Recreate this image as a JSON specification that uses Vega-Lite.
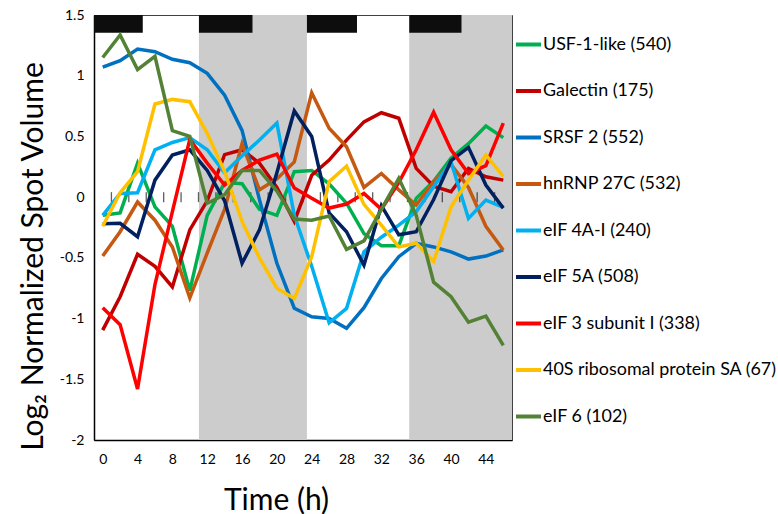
{
  "$schema": "https://vega.github.io/schema/vega-lite/v6.json",
  "width": 418,
  "height": 425,
  "autosize": "none",
  "padding": {"left": 94, "top": 15, "right": 266, "bottom": 74},
  "background": "white",
  "config": {
    "font": "Lato",
    "view": {"stroke": "#404040", "strokeWidth": 1},
    "axis": {
      "grid": false,
      "ticks": false,
      "domainColor": "#000000",
      "domainWidth": 1.5,
      "labelFontSize": 14,
      "labelColor": "#000000",
      "labelFlush": false,
      "labelOverlap": false,
      "titleFontSize": 30,
      "titleFontWeight": "normal",
      "titleColor": "#000000"
    }
  },
  "datasets": {
    "dark": [
      {"start": 11.05, "end": 23.45},
      {"start": 35.2, "end": 47}
    ],
    "bars": [
      {"start": -1, "end": 4.6},
      {"start": 11.05, "end": 17.2},
      {"start": 23.45, "end": 29.2},
      {"start": 35.2, "end": 41.2}
    ],
    "ticks": [
      {"time": 1}, {"time": 3}, {"time": 5}, {"time": 7}, {"time": 9}, {"time": 11},
      {"time": 13}, {"time": 15}, {"time": 17}, {"time": 19}, {"time": 21}, {"time": 23},
      {"time": 25}, {"time": 27}, {"time": 29}, {"time": 31}, {"time": 33}, {"time": 35},
      {"time": 37}, {"time": 39}, {"time": 41}, {"time": 43}, {"time": 45}
    ],
    "expr": [
      {"protein": "USF-1-like (540)", "time": 0, "value": -0.15},
      {"protein": "USF-1-like (540)", "time": 2, "value": -0.13},
      {"protein": "USF-1-like (540)", "time": 4, "value": 0.28},
      {"protein": "USF-1-like (540)", "time": 6, "value": -0.08},
      {"protein": "USF-1-like (540)", "time": 8, "value": -0.24},
      {"protein": "USF-1-like (540)", "time": 10, "value": -0.77},
      {"protein": "USF-1-like (540)", "time": 12, "value": -0.15},
      {"protein": "USF-1-like (540)", "time": 14, "value": 0.12},
      {"protein": "USF-1-like (540)", "time": 16, "value": 0.11},
      {"protein": "USF-1-like (540)", "time": 18, "value": -0.1},
      {"protein": "USF-1-like (540)", "time": 20, "value": -0.15},
      {"protein": "USF-1-like (540)", "time": 22, "value": 0.21},
      {"protein": "USF-1-like (540)", "time": 24, "value": 0.22},
      {"protein": "USF-1-like (540)", "time": 26, "value": 0.11},
      {"protein": "USF-1-like (540)", "time": 28, "value": -0.05},
      {"protein": "USF-1-like (540)", "time": 30, "value": -0.3},
      {"protein": "USF-1-like (540)", "time": 32, "value": -0.4},
      {"protein": "USF-1-like (540)", "time": 34, "value": -0.4},
      {"protein": "USF-1-like (540)", "time": 36, "value": -0.01},
      {"protein": "USF-1-like (540)", "time": 38, "value": 0.13},
      {"protein": "USF-1-like (540)", "time": 40, "value": 0.32},
      {"protein": "USF-1-like (540)", "time": 42, "value": 0.44},
      {"protein": "USF-1-like (540)", "time": 44, "value": 0.585},
      {"protein": "USF-1-like (540)", "time": 46, "value": 0.49},

      {"protein": "Galectin (175)", "time": 0, "value": -1.095},
      {"protein": "Galectin (175)", "time": 2, "value": -0.82},
      {"protein": "Galectin (175)", "time": 4, "value": -0.47},
      {"protein": "Galectin (175)", "time": 6, "value": -0.57},
      {"protein": "Galectin (175)", "time": 8, "value": -0.74},
      {"protein": "Galectin (175)", "time": 10, "value": -0.27},
      {"protein": "Galectin (175)", "time": 12, "value": -0.03},
      {"protein": "Galectin (175)", "time": 14, "value": 0.35},
      {"protein": "Galectin (175)", "time": 16, "value": 0.39},
      {"protein": "Galectin (175)", "time": 18, "value": 0.28},
      {"protein": "Galectin (175)", "time": 20, "value": 0.08},
      {"protein": "Galectin (175)", "time": 22, "value": -0.2},
      {"protein": "Galectin (175)", "time": 24, "value": 0.18},
      {"protein": "Galectin (175)", "time": 26, "value": 0.305},
      {"protein": "Galectin (175)", "time": 28, "value": 0.47},
      {"protein": "Galectin (175)", "time": 30, "value": 0.62},
      {"protein": "Galectin (175)", "time": 32, "value": 0.695},
      {"protein": "Galectin (175)", "time": 34, "value": 0.65},
      {"protein": "Galectin (175)", "time": 36, "value": 0.237},
      {"protein": "Galectin (175)", "time": 38, "value": 0.09},
      {"protein": "Galectin (175)", "time": 40, "value": 0.045},
      {"protein": "Galectin (175)", "time": 42, "value": 0.237},
      {"protein": "Galectin (175)", "time": 44, "value": 0.168},
      {"protein": "Galectin (175)", "time": 46, "value": 0.14},

      {"protein": "SRSF 2 (552)", "time": 0, "value": 1.07},
      {"protein": "SRSF 2 (552)", "time": 2, "value": 1.124},
      {"protein": "SRSF 2 (552)", "time": 4, "value": 1.22},
      {"protein": "SRSF 2 (552)", "time": 6, "value": 1.198},
      {"protein": "SRSF 2 (552)", "time": 8, "value": 1.135},
      {"protein": "SRSF 2 (552)", "time": 10, "value": 1.107},
      {"protein": "SRSF 2 (552)", "time": 12, "value": 1.02},
      {"protein": "SRSF 2 (552)", "time": 14, "value": 0.84},
      {"protein": "SRSF 2 (552)", "time": 16, "value": 0.55},
      {"protein": "SRSF 2 (552)", "time": 18, "value": -0.02},
      {"protein": "SRSF 2 (552)", "time": 20, "value": -0.545},
      {"protein": "SRSF 2 (552)", "time": 22, "value": -0.915},
      {"protein": "SRSF 2 (552)", "time": 24, "value": -0.985},
      {"protein": "SRSF 2 (552)", "time": 26, "value": -1.0},
      {"protein": "SRSF 2 (552)", "time": 28, "value": -1.08},
      {"protein": "SRSF 2 (552)", "time": 30, "value": -0.91},
      {"protein": "SRSF 2 (552)", "time": 32, "value": -0.67},
      {"protein": "SRSF 2 (552)", "time": 34, "value": -0.49},
      {"protein": "SRSF 2 (552)", "time": 36, "value": -0.38},
      {"protein": "SRSF 2 (552)", "time": 38, "value": -0.41},
      {"protein": "SRSF 2 (552)", "time": 40, "value": -0.45},
      {"protein": "SRSF 2 (552)", "time": 42, "value": -0.51},
      {"protein": "SRSF 2 (552)", "time": 44, "value": -0.485},
      {"protein": "SRSF 2 (552)", "time": 46, "value": -0.435},

      {"protein": "hnRNP  27C (532)", "time": 0, "value": -0.485},
      {"protein": "hnRNP  27C (532)", "time": 2, "value": -0.285},
      {"protein": "hnRNP  27C (532)", "time": 4, "value": -0.04},
      {"protein": "hnRNP  27C (532)", "time": 6, "value": -0.19},
      {"protein": "hnRNP  27C (532)", "time": 8, "value": -0.41},
      {"protein": "hnRNP  27C (532)", "time": 10, "value": -0.83},
      {"protein": "hnRNP  27C (532)", "time": 12, "value": -0.46},
      {"protein": "hnRNP  27C (532)", "time": 14, "value": -0.1},
      {"protein": "hnRNP  27C (532)", "time": 16, "value": 0.44},
      {"protein": "hnRNP  27C (532)", "time": 18, "value": 0.06},
      {"protein": "hnRNP  27C (532)", "time": 20, "value": 0.15},
      {"protein": "hnRNP  27C (532)", "time": 22, "value": 0.29},
      {"protein": "hnRNP  27C (532)", "time": 24, "value": 0.86},
      {"protein": "hnRNP  27C (532)", "time": 26, "value": 0.567},
      {"protein": "hnRNP  27C (532)", "time": 28, "value": 0.415},
      {"protein": "hnRNP  27C (532)", "time": 30, "value": 0.08},
      {"protein": "hnRNP  27C (532)", "time": 32, "value": 0.195},
      {"protein": "hnRNP  27C (532)", "time": 34, "value": 0.06},
      {"protein": "hnRNP  27C (532)", "time": 36, "value": -0.065},
      {"protein": "hnRNP  27C (532)", "time": 38, "value": 0.127},
      {"protein": "hnRNP  27C (532)", "time": 40, "value": 0.27},
      {"protein": "hnRNP  27C (532)", "time": 42, "value": 0.08},
      {"protein": "hnRNP  27C (532)", "time": 44, "value": -0.24},
      {"protein": "hnRNP  27C (532)", "time": 46, "value": -0.435},

      {"protein": "eIF 4A-I (240)", "time": 0, "value": -0.15},
      {"protein": "eIF 4A-I (240)", "time": 2, "value": 0.03},
      {"protein": "eIF 4A-I (240)", "time": 4, "value": 0.036},
      {"protein": "eIF 4A-I (240)", "time": 6, "value": 0.39},
      {"protein": "eIF 4A-I (240)", "time": 8, "value": 0.45},
      {"protein": "eIF 4A-I (240)", "time": 10, "value": 0.49},
      {"protein": "eIF 4A-I (240)", "time": 12, "value": 0.39},
      {"protein": "eIF 4A-I (240)", "time": 14, "value": 0.2},
      {"protein": "eIF 4A-I (240)", "time": 16, "value": 0.34},
      {"protein": "eIF 4A-I (240)", "time": 18, "value": 0.47},
      {"protein": "eIF 4A-I (240)", "time": 20, "value": 0.61},
      {"protein": "eIF 4A-I (240)", "time": 22, "value": -0.15},
      {"protein": "eIF 4A-I (240)", "time": 24, "value": -0.57},
      {"protein": "eIF 4A-I (240)", "time": 26, "value": -1.035},
      {"protein": "eIF 4A-I (240)", "time": 28, "value": -0.916},
      {"protein": "eIF 4A-I (240)", "time": 30, "value": -0.45},
      {"protein": "eIF 4A-I (240)", "time": 32, "value": -0.33},
      {"protein": "eIF 4A-I (240)", "time": 34, "value": -0.23},
      {"protein": "eIF 4A-I (240)", "time": 36, "value": -0.12},
      {"protein": "eIF 4A-I (240)", "time": 38, "value": 0.085},
      {"protein": "eIF 4A-I (240)", "time": 40, "value": 0.29},
      {"protein": "eIF 4A-I (240)", "time": 42, "value": -0.175},
      {"protein": "eIF 4A-I (240)", "time": 44, "value": -0.024},
      {"protein": "eIF 4A-I (240)", "time": 46, "value": -0.084},

      {"protein": "eIF 5A (508)", "time": 0, "value": -0.22},
      {"protein": "eIF 5A (508)", "time": 2, "value": -0.215},
      {"protein": "eIF 5A (508)", "time": 4, "value": -0.326},
      {"protein": "eIF 5A (508)", "time": 6, "value": 0.14},
      {"protein": "eIF 5A (508)", "time": 8, "value": 0.347},
      {"protein": "eIF 5A (508)", "time": 10, "value": 0.39},
      {"protein": "eIF 5A (508)", "time": 12, "value": 0.22},
      {"protein": "eIF 5A (508)", "time": 14, "value": -0.03},
      {"protein": "eIF 5A (508)", "time": 16, "value": -0.545},
      {"protein": "eIF 5A (508)", "time": 18, "value": -0.27},
      {"protein": "eIF 5A (508)", "time": 20, "value": 0.2},
      {"protein": "eIF 5A (508)", "time": 22, "value": 0.71},
      {"protein": "eIF 5A (508)", "time": 24, "value": 0.5},
      {"protein": "eIF 5A (508)", "time": 26, "value": -0.13},
      {"protein": "eIF 5A (508)", "time": 28, "value": -0.285},
      {"protein": "eIF 5A (508)", "time": 30, "value": -0.56},
      {"protein": "eIF 5A (508)", "time": 32, "value": -0.07},
      {"protein": "eIF 5A (508)", "time": 34, "value": -0.31},
      {"protein": "eIF 5A (508)", "time": 36, "value": -0.285},
      {"protein": "eIF 5A (508)", "time": 38, "value": -0.02},
      {"protein": "eIF 5A (508)", "time": 40, "value": 0.3},
      {"protein": "eIF 5A (508)", "time": 42, "value": 0.41},
      {"protein": "eIF 5A (508)", "time": 44, "value": 0.1},
      {"protein": "eIF 5A (508)", "time": 46, "value": -0.09},

      {"protein": "eIF 3 subunit I (338)", "time": 0, "value": -0.91},
      {"protein": "eIF 3 subunit I (338)", "time": 2, "value": -1.05},
      {"protein": "eIF 3 subunit I (338)", "time": 4, "value": -1.58},
      {"protein": "eIF 3 subunit I (338)", "time": 6, "value": -0.72},
      {"protein": "eIF 3 subunit I (338)", "time": 8, "value": -0.12},
      {"protein": "eIF 3 subunit I (338)", "time": 10, "value": 0.476},
      {"protein": "eIF 3 subunit I (338)", "time": 12, "value": 0.28},
      {"protein": "eIF 3 subunit I (338)", "time": 14, "value": 0.1},
      {"protein": "eIF 3 subunit I (338)", "time": 16, "value": 0.22},
      {"protein": "eIF 3 subunit I (338)", "time": 18, "value": 0.305},
      {"protein": "eIF 3 subunit I (338)", "time": 20, "value": 0.355},
      {"protein": "eIF 3 subunit I (338)", "time": 22, "value": 0.075},
      {"protein": "eIF 3 subunit I (338)", "time": 24, "value": -0.01},
      {"protein": "eIF 3 subunit I (338)", "time": 26, "value": -0.09},
      {"protein": "eIF 3 subunit I (338)", "time": 28, "value": -0.057},
      {"protein": "eIF 3 subunit I (338)", "time": 30, "value": 0.03},
      {"protein": "eIF 3 subunit I (338)", "time": 32, "value": -0.1},
      {"protein": "eIF 3 subunit I (338)", "time": 34, "value": 0.12},
      {"protein": "eIF 3 subunit I (338)", "time": 36, "value": 0.39},
      {"protein": "eIF 3 subunit I (338)", "time": 38, "value": 0.7},
      {"protein": "eIF 3 subunit I (338)", "time": 40, "value": 0.39},
      {"protein": "eIF 3 subunit I (338)", "time": 42, "value": 0.195},
      {"protein": "eIF 3 subunit I (338)", "time": 44, "value": 0.26},
      {"protein": "eIF 3 subunit I (338)", "time": 46, "value": 0.61},

      {"protein": "40S ribosomal protein SA (67)", "time": 0, "value": -0.24},
      {"protein": "40S ribosomal protein SA (67)", "time": 2, "value": 0.036},
      {"protein": "40S ribosomal protein SA (67)", "time": 4, "value": 0.21},
      {"protein": "40S ribosomal protein SA (67)", "time": 6, "value": 0.767},
      {"protein": "40S ribosomal protein SA (67)", "time": 8, "value": 0.805},
      {"protein": "40S ribosomal protein SA (67)", "time": 10, "value": 0.786},
      {"protein": "40S ribosomal protein SA (67)", "time": 12, "value": 0.525},
      {"protein": "40S ribosomal protein SA (67)", "time": 14, "value": 0.21},
      {"protein": "40S ribosomal protein SA (67)", "time": 16, "value": -0.2},
      {"protein": "40S ribosomal protein SA (67)", "time": 18, "value": -0.5},
      {"protein": "40S ribosomal protein SA (67)", "time": 20, "value": -0.75},
      {"protein": "40S ribosomal protein SA (67)", "time": 22, "value": -0.834},
      {"protein": "40S ribosomal protein SA (67)", "time": 24, "value": -0.49},
      {"protein": "40S ribosomal protein SA (67)", "time": 26, "value": 0.127},
      {"protein": "40S ribosomal protein SA (67)", "time": 28, "value": 0.256},
      {"protein": "40S ribosomal protein SA (67)", "time": 30, "value": -0.06},
      {"protein": "40S ribosomal protein SA (67)", "time": 32, "value": -0.23},
      {"protein": "40S ribosomal protein SA (67)", "time": 34, "value": -0.41},
      {"protein": "40S ribosomal protein SA (67)", "time": 36, "value": -0.38},
      {"protein": "40S ribosomal protein SA (67)", "time": 38, "value": -0.53},
      {"protein": "40S ribosomal protein SA (67)", "time": 40, "value": -0.08},
      {"protein": "40S ribosomal protein SA (67)", "time": 42, "value": 0.14},
      {"protein": "40S ribosomal protein SA (67)", "time": 44, "value": 0.347},
      {"protein": "40S ribosomal protein SA (67)", "time": 46, "value": 0.17},

      {"protein": "eIF 6 (102)", "time": 0, "value": 1.15},
      {"protein": "eIF 6 (102)", "time": 2, "value": 1.335},
      {"protein": "eIF 6 (102)", "time": 4, "value": 1.05},
      {"protein": "eIF 6 (102)", "time": 6, "value": 1.16},
      {"protein": "eIF 6 (102)", "time": 8, "value": 0.547},
      {"protein": "eIF 6 (102)", "time": 10, "value": 0.5},
      {"protein": "eIF 6 (102)", "time": 12, "value": -0.05},
      {"protein": "eIF 6 (102)", "time": 14, "value": 0.02},
      {"protein": "eIF 6 (102)", "time": 16, "value": 0.22},
      {"protein": "eIF 6 (102)", "time": 18, "value": 0.22},
      {"protein": "eIF 6 (102)", "time": 20, "value": 0.05},
      {"protein": "eIF 6 (102)", "time": 22, "value": -0.18},
      {"protein": "eIF 6 (102)", "time": 24, "value": -0.19},
      {"protein": "eIF 6 (102)", "time": 26, "value": -0.155},
      {"protein": "eIF 6 (102)", "time": 28, "value": -0.43},
      {"protein": "eIF 6 (102)", "time": 30, "value": -0.36},
      {"protein": "eIF 6 (102)", "time": 32, "value": -0.1},
      {"protein": "eIF 6 (102)", "time": 34, "value": 0.155},
      {"protein": "eIF 6 (102)", "time": 36, "value": -0.15},
      {"protein": "eIF 6 (102)", "time": 38, "value": -0.7},
      {"protein": "eIF 6 (102)", "time": 40, "value": -0.82},
      {"protein": "eIF 6 (102)", "time": 42, "value": -1.03},
      {"protein": "eIF 6 (102)", "time": 44, "value": -0.98},
      {"protein": "eIF 6 (102)", "time": 46, "value": -1.22}
    ]
  },
  "layer": [
    {
      "data": {"name": "dark"},
      "mark": {"type": "rect", "color": "#CCCCCC"},
      "encoding": {
        "x": {
          "field": "start",
          "type": "quantitative",
          "scale": {"domain": [-1, 47], "nice": false, "zero": false},
          "axis": {
            "values": [0, 4, 8, 12, 16, 20, 24, 28, 32, 36, 40, 44],
            "tickCount": 24,
            "title": "Time (h)",
            "labelPadding": 12,
            "titleX": 182,
            "titleY": 69,
            "titleBaseline": "alphabetic",
            "titleAlign": "center"
          }
        },
        "x2": {"field": "end"},
        "y": {
          "datum": -2,
          "type": "quantitative",
          "scale": {"domain": [-2, 1.5], "nice": false, "zero": false},
          "axis": {
            "values": [-2, -1.5, -1, -0.5, 0, 0.5, 1, 1.5],
            "tickCount": 16,
            "labelExpr": "datum.value + ''",
            "title": "Log₂ Normalized Spot Volume",
            "labelPadding": 10,
            "titleAngle": -90,
            "titleX": -52,
            "titleY": 241,
            "titleBaseline": "alphabetic",
            "titleAlign": "center"
          }
        },
        "y2": {"datum": 1.5}
      }
    },
    {
      "data": {"name": "bars"},
      "mark": {"type": "rect", "color": "#0D0D0D"},
      "encoding": {
        "x": {"field": "start", "type": "quantitative"},
        "x2": {"field": "end"},
        "y": {"datum": 1.354, "type": "quantitative"},
        "y2": {"datum": 1.5}
      }
    },
    {
      "mark": {"type": "rule", "color": "#595959", "strokeWidth": 1.5},
      "encoding": {
        "y": {"datum": 0, "type": "quantitative"}
      }
    },
    {
      "data": {"name": "ticks"},
      "mark": {"type": "tick", "orient": "vertical", "size": 10, "thickness": 1.3, "color": "#1A1A1A"},
      "encoding": {
        "x": {"field": "time", "type": "quantitative"},
        "y": {"datum": 0, "type": "quantitative"}
      }
    },
    {
      "data": {"name": "expr"},
      "mark": {"type": "line", "strokeWidth": 3.5},
      "encoding": {
        "x": {"field": "time", "type": "quantitative"},
        "y": {"field": "value", "type": "quantitative"},
        "color": {
          "field": "protein",
          "type": "nominal",
          "scale": {
            "domain": ["USF-1-like (540)", "Galectin (175)", "SRSF 2 (552)", "hnRNP  27C (532)", "eIF 4A-I (240)", "eIF 5A (508)", "eIF 3 subunit I (338)", "40S ribosomal protein SA (67)", "eIF 6 (102)"],
            "range": ["#00B050", "#C00000", "#0070C0", "#C65911", "#00B0F0", "#002060", "#FF0000", "#FFC000", "#538135"]
          },
          "legend": {
            "orient": "none",
            "legendX": 420,
            "legendY": 15,
            "title": null,
            "padding": 0,
            "symbolType": "stroke",
            "symbolSize": 625,
            "symbolStrokeWidth": 4,
            "labelFontSize": 17.9,
            "labelColor": "#000000",
            "labelOffset": 0,
            "labelLimit": 400,
            "rowPadding": 22.5
          }
        }
      }
    }
  ]
}
